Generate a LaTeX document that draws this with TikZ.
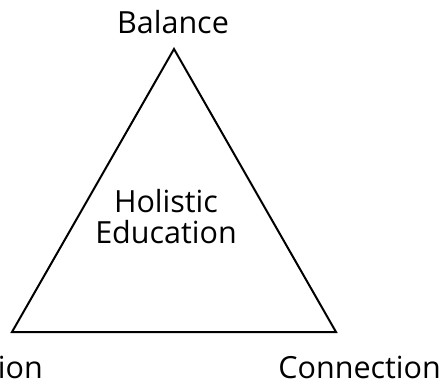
\documentclass[tikz,border=0pt]{standalone}
\usepackage{fontspec}
\setmainfont{Open Sans}
\begin{document}
\begin{tikzpicture}[x=1pt,y=-1pt,
  lbl/.style={font=\fontsize{30.5}{31}\selectfont, inner sep=0pt, anchor=base},
  tri/.style={draw=black, line width=2pt, line join=miter}]
\useasboundingbox (0,0) rectangle (445,383);
\clip (0,0) rectangle (445,383);
\coordinate (A) at (174,49);
\coordinate (L) at (12,332);
\coordinate (R) at (336,332);
\draw[tri] (A) -- (L) -- (R) -- cycle;
\node[lbl] (bal) at (173,33) {Balance};
\node[lbl, anchor=base east] (con) at (441,378) {Connection};
\node[lbl, anchor=base east] (inc) at (43,378) {Inclusion};
\node[lbl, align=center, anchor=base] (hol) at (166,243) {Holistic\\Education};
\end{tikzpicture}
\end{document}
